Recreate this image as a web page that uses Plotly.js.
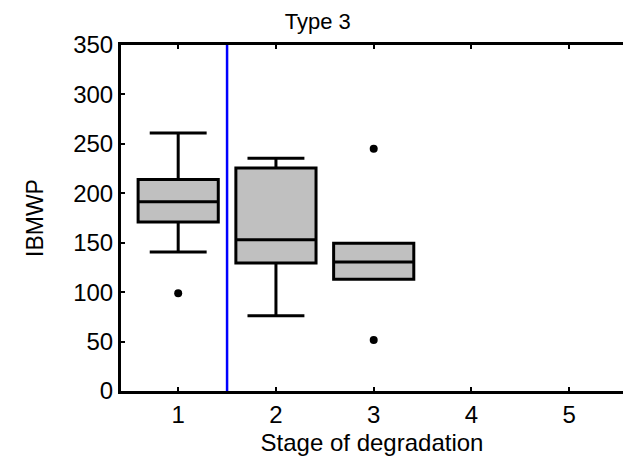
<!DOCTYPE html>
<html>
<head>
<meta charset="utf-8">
<script src="https://cdn.plot.ly/plotly-3.0.1.min.js"></script>
<style>html,body{margin:0;padding:0;background:#fff;}#chart{width:623px;height:465px;}</style>
</head>
<body>
<div id="chart"></div>
<script>
var stages = [1, 2, 3];
var q1 = [171, 129.5, 113];
var median = [191.5, 153, 130.5];
var q3 = [214, 225.5, 149.5];
var lowerWhisker = [140.5, 76, 113];
var upperWhisker = [261, 235.5, 149.5];
var outlierX = [1, 3, 3];
var outlierY = [99, 245, 51.5];
var tickVals = [1, 2, 3, 4, 5];
var tickText = ['1', '2', '3', '4', '5'];
var yTickVals = [0, 50, 100, 150, 200, 250, 300, 350];
var dividerX = 1.5;

var font = 'Liberation Sans, Arial, sans-serif';

var data = [
  {
    type: 'box',
    x: stages,
    q1: q1,
    median: median,
    q3: q3,
    lowerfence: lowerWhisker,
    upperfence: upperWhisker,
    width: 0.82,
    whiskerwidth: 0.71,
    fillcolor: '#c0c0c0',
    line: {color: '#000', width: 3},
    boxpoints: false,
    hoverinfo: 'skip',
    showlegend: false
  },
  {
    type: 'scatter',
    mode: 'markers',
    x: outlierX,
    y: outlierY,
    marker: {color: '#000', size: 8},
    showlegend: false,
    hoverinfo: 'skip'
  }
];

var layout = {
  width: 623,
  height: 465,
  margin: {l: 121, r: 0, t: 45, b: 74},
  paper_bgcolor: '#fff',
  plot_bgcolor: '#fff',
  showlegend: false,
  title: {text: 'Type 3', font: {family: font, size: 22, color: '#000'}, x: 0.51, xanchor: 'center', y: 0.955, yanchor: 'middle'},
  xaxis: {
    range: [0.415, 5.55],
    tickmode: 'array',
    tickvals: tickVals,
    ticktext: tickText,
    showgrid: false,
    zeroline: false,
    showline: true,
    linecolor: '#000',
    linewidth: 3,
    mirror: 'ticks',
    ticks: 'inside',
    ticklen: 4,
    tickwidth: 2,
    tickcolor: '#000',
    tickfont: {family: font, size: 24, color: '#000'},
    title: {text: 'Stage of degradation', font: {family: font, size: 24, color: '#000'}, standoff: 8}
  },
  yaxis: {
    range: [0, 350],
    tickmode: 'array',
    tickvals: yTickVals,
    showgrid: false,
    zeroline: false,
    showline: true,
    linecolor: '#000',
    linewidth: 3,
    mirror: false,
    ticks: 'inside',
    ticklen: 4,
    tickwidth: 2,
    tickcolor: '#000',
    tickfont: {family: font, size: 24, color: '#000'},
    title: {text: 'IBMWP', font: {family: font, size: 23, color: '#000'}, standoff: 24}
  },
  shapes: [
    {type: 'line', xref: 'x', yref: 'y', x0: dividerX, x1: dividerX, y0: 0, y1: 350, line: {color: '#0000ff', width: 2.5}}
  ]
};

Plotly.newPlot('chart', data, layout, {staticPlot: true, displayModeBar: false});
</script>
</body>
</html>
